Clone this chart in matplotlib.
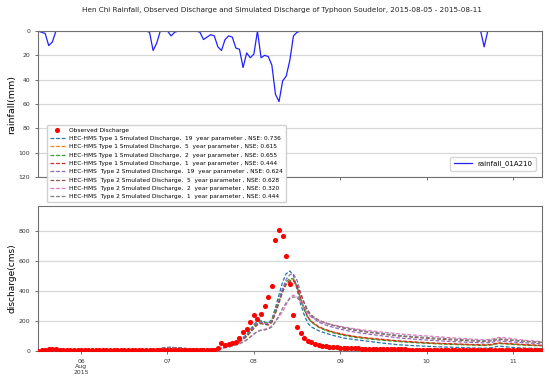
import numpy as np
import pandas as pd
import matplotlib
matplotlib.use('Agg')
import matplotlib.pyplot as plt

# =======  DATA  ======= #
start = pd.Timestamp('2015-08-05 12:00')
n_hours = 141

# hourly rainfall at station 01A210 (mm)
rainfall = [0, 1, 2, 12, 9, 0, 0, 0, 0, 0,
            0, 0, 0, 0, 0, 0, 0, 0, 0, 0,
            0, 0, 0, 0, 0, 0, 0, 0, 0, 0,
            0, 1, 16, 10, 0, 0, 0, 4, 1, 0,
            0, 0, 0, 0, 0, 1, 7, 5, 3, 4,
            13, 16, 7, 4, 5, 14, 15, 30, 18, 22,
            19, 0, 22, 20, 21, 28, 52, 58, 41, 37,
            24, 4, 1, 0, 0, 0, 0, 0, 0, 0,
            0, 0, 0, 0, 0, 0, 0, 0, 0, 0,
            0, 0, 0, 0, 0, 0, 0, 0, 0, 0,
            0, 0, 0, 0, 0, 0, 0, 0, 0, 0,
            0, 0, 0, 0, 0, 0, 0, 0, 0, 0,
            0, 0, 0, 0, 13, 0, 0, 0, 0, 0,
            0, 0, 0, 0, 0, 0, 0, 0, 0, 0, 0]

# hourly observed discharge (cms)
observed = [3, 5, 8, 14, 12, 11, 10, 9, 8, 7,
            6, 6, 5, 5, 5, 5, 5, 4, 4, 4,
            4, 4, 4, 4, 4, 4, 4, 4, 4, 4,
            4, 4, 5, 6, 7, 8, 8, 8, 7, 7,
            6, 6, 5, 5, 5, 5, 5, 5, 5, 8,
            18, 55, 40, 46, 52, 62, 88, 124, 144, 193,
            237, 213, 244, 301, 359, 430, 736, 807, 763, 630,
            443, 237, 158, 118, 84, 69, 58, 47, 40, 35,
            31, 28, 26, 24, 22, 21, 20, 19, 18, 17,
            16, 15, 15, 14, 14, 13, 13, 12, 12, 12,
            11, 11, 11, 10, 10, 10, 10, 9, 9, 9,
            9, 9, 8, 8, 8, 8, 8, 8, 7, 7,
            7, 7, 7, 7, 7, 7, 8, 8, 8, 8,
            7, 7, 7, 6, 6, 6, 6, 6, 6, 5, 5]

# simulated discharge, read at these hours after start
sim_hours = [0, 4, 8, 12, 18, 24, 28, 31, 33, 35,
             37, 40, 44, 48, 50, 52, 54, 56, 58, 60,
             61, 62, 63, 64, 65, 66, 67, 68, 69, 70,
             71, 72, 73, 74, 75, 76, 78, 80, 82, 85,
             88, 92, 96, 100, 105, 110, 115, 120, 124, 126,
             128, 130, 133, 136, 140]

t1_19yr = [2, 4, 4, 3, 2, 2, 2, 3, 10, 22,
           26, 18, 12, 10, 15, 30, 45, 70, 110, 175,
           198, 202, 193, 186, 210, 290, 375, 460, 515, 532,
           505, 410, 310, 240, 185, 160, 135, 118, 104, 86,
           76, 64, 52, 42, 35, 29, 25, 21, 18, 22,
           33, 28, 22, 19, 16]
t1_5yr = [1, 3, 3, 3, 2, 2, 2, 3, 8, 18,
          22, 16, 11, 9, 13, 26, 40, 62, 100, 160,
          185, 192, 186, 180, 200, 265, 335, 405, 450, 472,
          476, 430, 350, 280, 225, 195, 160, 140, 125, 108,
          95, 84, 75, 66, 58, 51, 46, 42, 39, 42,
          52, 49, 44, 40, 36]
t1_2yr = [1, 3, 3, 3, 2, 2, 2, 3, 8, 19,
          23, 17, 11, 9, 14, 27, 42, 64, 104, 166,
          190, 196, 190, 184, 205, 272, 345, 415, 462, 482,
          480, 428, 345, 275, 222, 192, 158, 137, 121, 104,
          91, 80, 71, 63, 55, 49, 44, 40, 37, 40,
          50, 47, 42, 38, 34]
t1_1yr = [1, 3, 3, 3, 2, 2, 2, 3, 8, 18,
          22, 16, 11, 9, 13, 25, 39, 60, 98, 155,
          180, 186, 180, 175, 195, 258, 328, 398, 445, 465,
          468, 425, 348, 280, 226, 196, 162, 142, 127, 110,
          97, 86, 77, 68, 60, 53, 48, 44, 41, 44,
          54, 51, 46, 42, 38]
t2_19yr = [2, 4, 4, 3, 3, 3, 3, 4, 9, 19,
           24, 18, 13, 11, 15, 28, 42, 65, 102, 160,
           185, 192, 186, 182, 200, 262, 335, 415, 478, 508,
           512, 470, 390, 318, 262, 228, 192, 172, 158, 140,
           126, 112, 100, 88, 78, 70, 63, 58, 54, 57,
           68, 64, 58, 54, 48]
t2_5yr = [2, 4, 4, 3, 3, 3, 3, 4, 9, 19,
          23, 18, 13, 11, 15, 27, 40, 60, 96, 150,
          175, 182, 177, 173, 190, 250, 320, 395, 445, 466,
          468, 440, 380, 320, 270, 238, 205, 185, 170, 152,
          138, 124, 112, 100, 90, 81, 74, 68, 64, 67,
          78, 74, 68, 63, 57]
t2_2yr = [2, 3, 3, 3, 3, 3, 3, 4, 8, 15,
          20, 16, 12, 10, 13, 22, 32, 48, 75, 115,
          130, 140, 145, 152, 168, 195, 228, 262, 310, 355,
          372, 360, 328, 285, 245, 225, 200, 185, 175, 160,
          148, 135, 125, 115, 105, 97, 88, 80, 74, 78,
          90, 88, 78, 70, 63]
t2_1yr = [2, 3, 3, 3, 3, 3, 3, 4, 8, 15,
          20, 16, 12, 10, 13, 22, 32, 47, 73, 112,
          130, 138, 140, 146, 160, 195, 238, 285, 322, 348,
          360, 356, 330, 292, 258, 235, 205, 186, 172, 155,
          142, 128, 116, 104, 95, 87, 80, 73, 68, 72,
          82, 78, 70, 64, 58]

sim_labels = [
    'HEC-HMS Type 1 Smulated Discharge,  19  year parameter , NSE: 0.736',
    'HEC-HMS Type 1 Smulated Discharge,  5  year parameter , NSE: 0.615',
    'HEC-HMS Type 1 Smulated Discharge,  2  year parameter , NSE: 0.655',
    'HEC-HMS Type 1 Smulated Discharge,  1  year parameter , NSE: 0.444',
    'HEC-HMS  Type 2 Smulated Discharge,  19  year parameter , NSE: 0.624',
    'HEC-HMS  Type 2 Smulated Discharge,  5  year parameter , NSE: 0.628',
    'HEC-HMS  Type 2 Smulated Discharge,  2  year parameter , NSE: 0.320',
    'HEC-HMS  Type 2 Smulated Discharge,  1  year parameter , NSE: 0.444',
]
day_ticks = ['2015-08-06', '2015-08-07', '2015-08-08',
             '2015-08-09', '2015-08-10', '2015-08-11']
day_labels = ['06\nAug\n2015', '07', '08', '09', '10', '11']

title = ('Hen Chi Rainfall, Observed Discharge and Simulated Discharge '
         'of Typhoon Soudelor, 2015-08-05 - 2015-08-11')

# =============================================================================
# Plot
# =============================================================================

def style_axes(ax):
    for sp in ax.spines.values():
        sp.set_color('#707070')
        sp.set_linewidth(0.8)
    ax.grid(axis='y', color='#d8d8d8', lw=0.9)
    ax.set_axisbelow(True)
    ax.tick_params(labelsize=4.4, length=2, width=0.5, colors='#333333')


times = pd.date_range(start, periods=n_hours, freq='h')
sim_times = start + pd.to_timedelta(sim_hours, unit='h')
tick_pos = pd.to_datetime(day_ticks)

fig = plt.figure(figsize=(5.5, 3.81), dpi=100)
ax1 = fig.add_axes([0.069, 0.5354, 0.916, 0.3832])
ax2 = fig.add_axes([0.069, 0.0787, 0.916, 0.3806])

# rainfall, inverted
ax1.plot(times, rainfall, color='#2020ff', lw=0.9, label='rainfall_01A210')
ax1.set_ylim(120, 0)
ax1.set_yticks(np.arange(0, 121, 20))
ax1.set_xlim(times[0], times[-1])
ax1.set_xticks(tick_pos)
ax1.tick_params(axis='x', labelbottom=False)
ax1.set_ylabel('rainfall(mm)', fontsize=6.8, labelpad=1.5)
style_axes(ax1)
ax1.legend(loc='lower right', fontsize=5, handlelength=2.6,
           borderpad=0.5, bbox_to_anchor=(0.995, 0.02))

# discharge
ax2.plot(times, observed, 'o', color='red', ms=3.7, mew=0,
         label='Observed Discharge', zorder=3)
sims = [t1_19yr, t1_5yr, t1_2yr, t1_1yr, t2_19yr, t2_5yr, t2_2yr, t2_1yr]
for i, (s, lab) in enumerate(zip(sims, sim_labels)):
    ax2.plot(sim_times, s, '--', color='C' + str(i), lw=0.9,
             dashes=(3, 1.5), label=lab)
ax2.set_ylim(0, 965)
ax2.set_yticks(np.arange(0, 801, 200))
ax2.set_xlim(times[0], times[-1])
ax2.set_xticks(tick_pos)
ax2.set_xticklabels(day_labels)
ax2.set_ylabel('discharge(cms)', fontsize=6.5, labelpad=1.5)
style_axes(ax2)
ax2.legend(loc='upper left', bbox_to_anchor=(0.08, 0.68),
           bbox_transform=fig.transFigure, fontsize=4.2, numpoints=1,
           handlelength=2.6, labelspacing=0.56, borderpad=0.45,
           framealpha=0.9)

fig.text(0.513, 0.973, title, ha='center', va='center', fontsize=5.2,
         color='#222222')

fig.savefig('out.png', dpi=100)
